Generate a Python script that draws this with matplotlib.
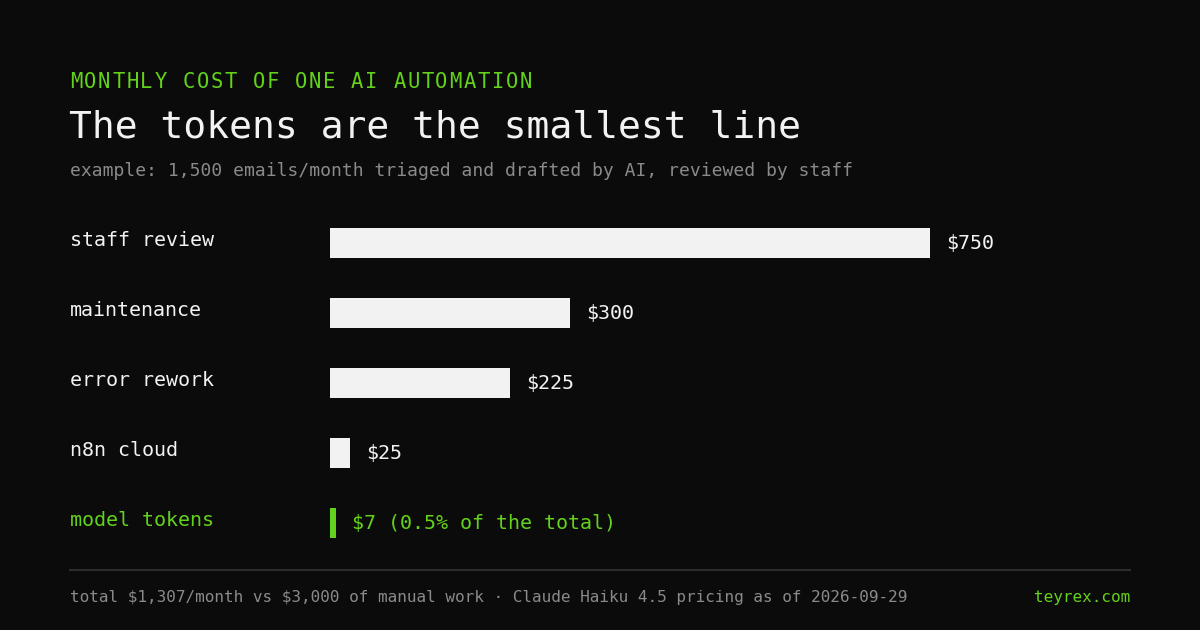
import matplotlib

matplotlib.use("Agg")
import matplotlib.pyplot as plt
from matplotlib.lines import Line2D
from matplotlib.transforms import blended_transform_factory

plt.rcParams["text.parse_math"] = False

BG = "#0b0b0b"
GREEN = "#63d21b"
BAR = "#f2f2f2"
TEXT = "#f2f2f2"
GREY = "#8a8a8a"
MONO = ["DejaVu Sans Mono"]

categories = ["staff review", "maintenance", "error rework", "n8n cloud", "model tokens"]
costs = [750, 300, 225, 25, 7]
value_labels = ["$750", "$300", "$225", "$25", "$7 (0.5% of the total)"]
highlight = [False, False, False, False, True]

W, H = 1200, 630
fig = plt.figure(figsize=(12, 6.3), dpi=100, facecolor=BG)


def fx(px):
    return px / W


def fy(py):
    return 1 - py / H


# axes: 0..1000 over 330..1130 px, rows 70 px apart starting at 208 px
ax = fig.add_axes([fx(330), fy(558), fx(800), 350 / H])
ax.set_facecolor(BG)
ax.set_xlim(0, 1000)
ax.set_ylim(len(categories) - 0.5, -0.5)
ax.axis("off")

ypos = list(range(len(categories)))
colors = [GREEN if h else BAR for h in highlight]
# tokens bar is drawn a bit wider than its value so it stays visible
widths = [max(c, 7.5) if h else c for c, h in zip(costs, highlight)]
ax.barh(ypos, widths, height=30 / 70, color=colors, linewidth=0)

label_tf = blended_transform_factory(fig.transFigure, ax.transData)
for y, name, w, lab, h in zip(ypos, categories, widths, value_labels, highlight):
    col = GREEN if h else TEXT
    ax.text(fx(70), y - 0.03, name, transform=label_tf, color=col,
            fontsize=14.4, family=MONO, va="center", ha="left")
    ax.annotate(lab, xy=(w, y), xytext=(16, 0), textcoords="offset pixels",
                color=col, fontsize=14.4, family=MONO, va="center", ha="left")

# header - eyebrow is letter-spaced, so place it one glyph at a time
eyebrow = "MONTHLY COST OF ONE AI AUTOMATION"
for i, ch in enumerate(eyebrow):
    fig.text(fx(70 + i * 14.05), fy(88), ch, color=GREEN,
             fontsize=14.8, family=MONO, va="baseline", ha="left")
fig.text(fx(69), fy(137), "The tokens are the smallest line", color=TEXT,
         fontsize=27.4, family=MONO, va="baseline", ha="left")
fig.text(fx(70), fy(176),
         "example: 1,500 emails/month triaged and drafted by AI, reviewed by staff",
         color=GREY, fontsize=13.0, family=MONO, va="baseline", ha="left")

# footer
fig.add_artist(Line2D([fx(70), fx(1130)], [fy(570), fy(570)],
                      transform=fig.transFigure, color="#2c2c2c", linewidth=1.5))
fig.text(fx(70), fy(602),
         "total $1,307/month vs $3,000 of manual work \u00b7 Claude Haiku 4.5 pricing as of 2026-09-29",
         color=GREY, fontsize=11.5, family=MONO, va="baseline", ha="left")
fig.text(fx(1130), fy(602), "teyrex.com", color=GREEN,
         fontsize=11.5, family=MONO, va="baseline", ha="right")

fig.savefig("out.png", dpi=100, facecolor=BG)
